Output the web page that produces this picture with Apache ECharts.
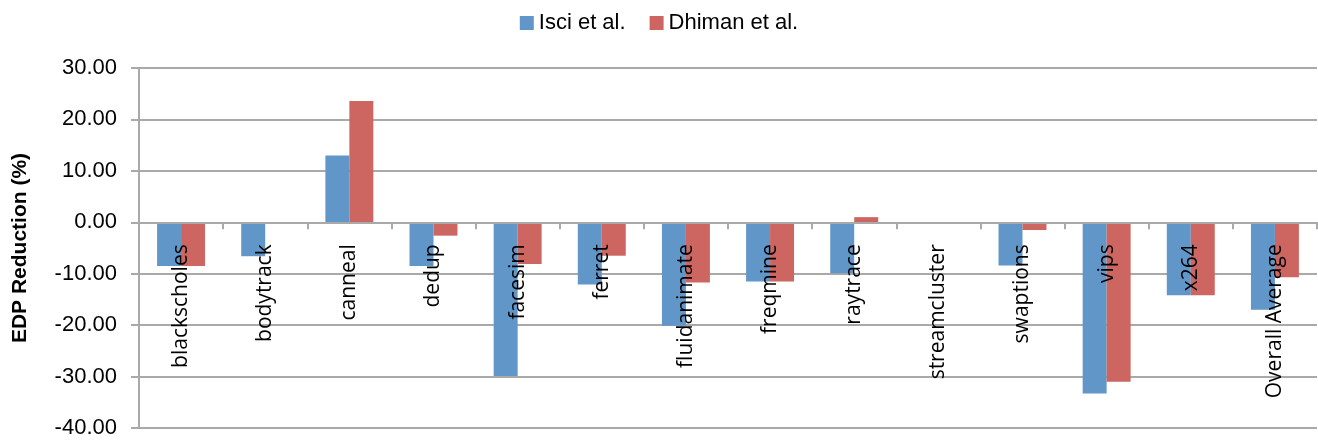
<!DOCTYPE html>
<html>
<head>
<meta charset="utf-8">
<title>EDP Reduction</title>
<script src="https://cdn.jsdelivr.net/npm/echarts@6/dist/echarts.min.js"></script>
<style>
  html, body { margin: 0; padding: 0; background: #fff; }
  #chart { width: 1318px; height: 443px; }
</style>
</head>
<body>
<div id="chart"></div>
<script>
// benchmarks on the x axis
const categories = ["blackscholes", "bodytrack", "canneal", "dedup", "facesim", "ferret",
  "fluidanimate", "freqmine", "raytrace", "streamcluster", "swaptions", "vips", "x264", "Overall Average"];
const seriesNames = ["Isci et al.", "Dhiman et al."];
// EDP reduction (%)
const isciValues = [-8.5, -6.6, 13.0, -8.5, -29.9, -12.1, -20.1, -11.5, -9.9, 0, -8.4, -33.3, -14.2, -17.0];
const dhimanValues = [-8.5, -0.3, 23.6, -2.6, -8.1, -6.5, -11.7, -11.5, 1.0, 0, -1.5, -31.0, -14.2, -10.7];
const yMin = -40, yMax = 30, yStep = 10;

const colors = ["#6196c9", "#cd6660"];
const gridGrey = "#a9a9a9";

const chart = echarts.init(document.getElementById("chart"), null, { renderer: "canvas" });

chart.setOption({
  animation: false,
  color: colors,
  legend: {
    top: 7,
    left: "center",
    itemWidth: 14,
    itemHeight: 14,
    itemGap: 24,
    icon: "rect",
    textStyle: { fontFamily: "Liberation Sans", fontSize: 22, color: "#000" },
    data: seriesNames
  },
  grid: { left: 139, right: 1, top: 68, bottom: 15, containLabel: false, outerBoundsMode: "none" },
  xAxis: {
    type: "category",
    data: categories,
    z: 10,
    position: "bottom",
    axisLine: { onZero: false, lineStyle: { color: gridGrey, width: 2 } },
    axisTick: { show: true, length: 7, lineStyle: { color: gridGrey, width: 2 } },
    axisLabel: {
      rotate: 90,
      margin: 22,
      interval: 0,
      fontFamily: "Open Sans",
      fontSize: 21,
      color: "#000"
    },
    splitLine: { show: false }
  },
  yAxis: {
    type: "value",
    min: yMin,
    max: yMax,
    interval: yStep,
    name: "EDP Reduction (%)",
    nameLocation: "middle",
    nameGap: 108,
    nameTextStyle: { fontFamily: "Liberation Sans", fontWeight: "bold", fontSize: 21, color: "#000" },
    axisLine: { show: true, lineStyle: { color: gridGrey, width: 2 } },
    axisTick: { show: true, length: 8, lineStyle: { color: gridGrey, width: 2 } },
    axisLabel: {
      margin: 22,
      fontFamily: "Liberation Sans",
      fontSize: 22,
      color: "#000",
      formatter: v => v.toFixed(2)
    },
    splitLine: { show: true, lineStyle: { color: gridGrey, width: 2 } }
  },
  series: [
    {
      name: seriesNames[0],
      type: "bar",
      data: isciValues,
      barGap: "0%",
      barCategoryGap: "43%"
    },
    {
      name: seriesNames[1],
      type: "bar",
      data: dhimanValues,
      barGap: "0%",
      barCategoryGap: "43%"
    }
  ]
});

// lift the category axis (line, ticks, labels) up to the zero line, using the value scale
const zeroY = chart.convertToPixel({ yAxisIndex: 0 }, 0);
const bottomY = chart.convertToPixel({ yAxisIndex: 0 }, yMin);
chart.setOption({ xAxis: { offset: -(bottomY - zeroY) } });
</script>
</body>
</html>
